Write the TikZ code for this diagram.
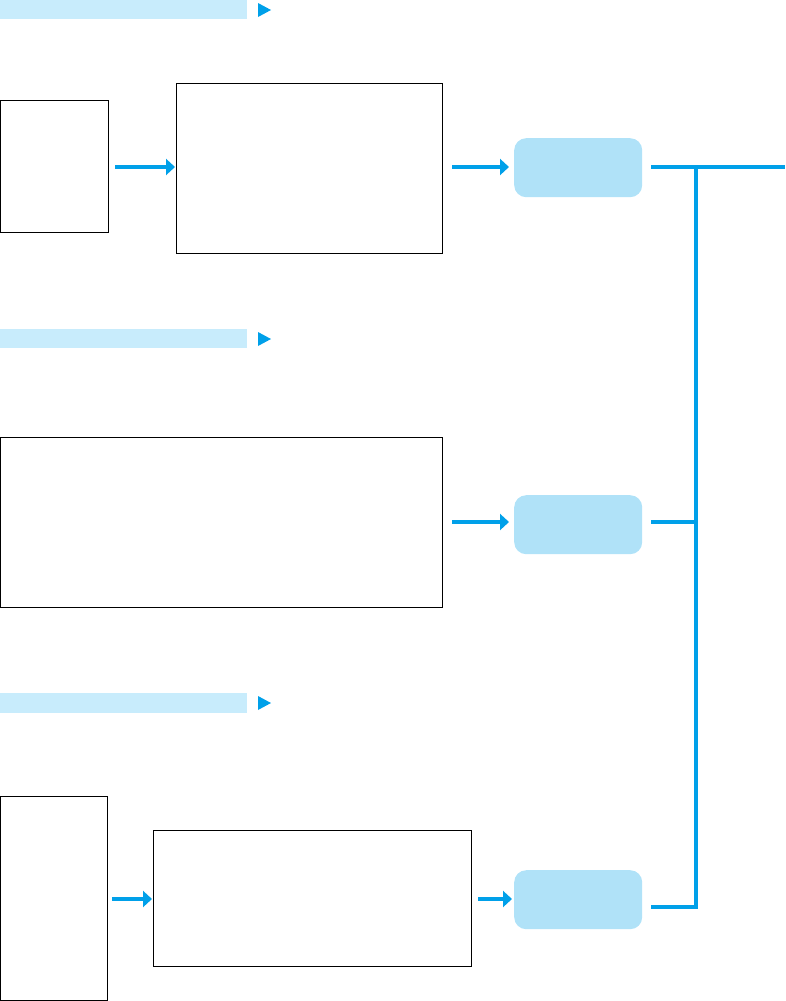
\documentclass[tikz,border=0pt]{standalone}
\usetikzlibrary{arrows.meta}
\definecolor{barblue}{HTML}{C8ECFC}
\definecolor{boxblue}{HTML}{B0E2F8}
\definecolor{lineblue}{HTML}{00A0E9}
\begin{document}
\begin{tikzpicture}[x=1pt,y=-1pt,
  bar/.style={fill=barblue,draw=none},
  tri/.style={fill=lineblue,draw=none},
  plainbox/.style={draw=black,line width=1pt,fill=white,inner sep=0pt,anchor=north west},
  softbox/.style={fill=boxblue,draw=none,rounded corners=12pt,inner sep=0pt,anchor=north west,minimum width=128pt,minimum height=59pt},
  flow/.style={draw=lineblue,line width=4.6pt,-{Triangle[length=9pt,width=16pt]}},
  trunk/.style={draw=lineblue,line width=4.6pt}]
\useasboundingbox (0,0) rectangle (785,1001);
% header bars
\fill[bar] (0,0) rectangle (247,19);
\fill[tri] (258,3) -- (271,10) -- (258,17) -- cycle;
\fill[bar] (0,329) rectangle (247,348);
\fill[tri] (258,332) -- (271,339) -- (258,346) -- cycle;
\fill[bar] (0,693) rectangle (247,713);
\fill[tri] (258,696) -- (271,703) -- (258,710) -- cycle;
% boxes
\node[plainbox,minimum width=108pt,minimum height=132pt] (a) at (0,100) {};
\node[plainbox,minimum width=266pt,minimum height=170pt] (b) at (176,83) {};
\node[softbox] (r1) at (514,138) {};
\node[plainbox,minimum width=442pt,minimum height=170pt] (c) at (0,437) {};
\node[softbox] (r2) at (514,495) {};
\node[plainbox,minimum width=107pt,minimum height=204pt] (d) at (0,796) {};
\node[plainbox,minimum width=318pt,minimum height=136pt] (e) at (153,830) {};
\node[softbox] (r3) at (514,870) {};
% connector coordinates
\coordinate (j1) at (696,167);
\coordinate (j2) at (696,522);
\coordinate (j3) at (696,907);
\coordinate (out) at (785,167);
% arrows
\draw[flow] (115,167) -- ([xshift=-1pt]b.west |- 0,167);
\draw[flow] (452,167) -- ([xshift=-5pt]r1.west |- 0,167);
\draw[flow] (452,522) -- ([xshift=-5pt]r2.west |- 0,522);
\draw[flow] (112,899) -- ([xshift=-1pt]e.west |- 0,899);
\draw[flow] (478,899) -- ([xshift=-2pt]r3.west |- 0,899);
% trunk
\draw[trunk] (651,167) -- (out);
\draw[trunk] (651,522) -- (j2);
\draw[trunk] (651,907) -- (j3) -- (j1);
\end{tikzpicture}
\end{document}
